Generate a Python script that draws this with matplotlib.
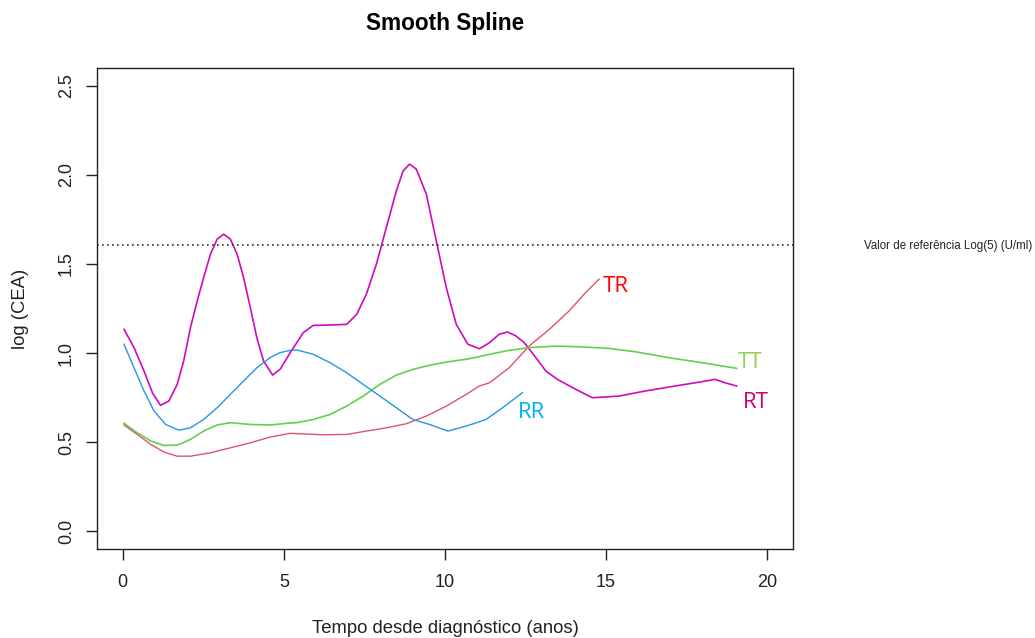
import matplotlib
matplotlib.use("Agg")
import matplotlib.pyplot as plt

plt.rcParams["font.family"] = ["Liberation Sans", "DejaVu Sans"]

# Smoothed log(CEA) trajectories per group
rt_x = [0.04, 0.35, 0.66, 0.92, 1.17, 1.43, 1.69, 1.89, 2.10, 2.31, 2.51, 2.72,
        2.93, 3.13, 3.34, 3.55, 3.75, 3.96, 4.16, 4.37, 4.65, 4.89, 5.19, 5.30,
        5.60, 5.91, 6.43, 6.95, 7.26, 7.56, 7.87, 8.18, 8.49, 8.70, 8.90, 9.11,
        9.42, 9.73, 10.04, 10.35, 10.71, 11.07, 11.38, 11.68, 11.94, 12.20,
        12.46, 12.82, 13.13, 13.49, 14.06, 14.57, 15.39, 16.22, 17.15, 17.97,
        18.38, 18.69, 19.05]
rt_y = [1.133, 1.030, 0.899, 0.777, 0.706, 0.730, 0.824, 0.955, 1.142, 1.292,
        1.423, 1.554, 1.639, 1.667, 1.639, 1.554, 1.423, 1.254, 1.086, 0.955,
        0.876, 0.910, 1.000, 1.030, 1.114, 1.155, 1.157, 1.161, 1.217, 1.330,
        1.498, 1.704, 1.910, 2.022, 2.060, 2.032, 1.892, 1.629, 1.367, 1.161,
        1.049, 1.024, 1.058, 1.105, 1.118, 1.096, 1.058, 0.974, 0.899, 0.852,
        0.796, 0.749, 0.758, 0.787, 0.815, 0.839, 0.852, 0.833, 0.815]

tr_x = [0.04, 0.45, 0.87, 1.28, 1.69, 2.10, 2.72, 3.34, 3.96, 4.57, 5.19,
        5.50, 6.22, 6.95, 7.56, 8.18, 8.80, 9.42, 10.04, 10.66, 11.07, 11.38,
        11.99, 12.61, 13.24, 13.85, 14.36, 14.78]
tr_y = [0.596, 0.543, 0.487, 0.444, 0.421, 0.421, 0.440, 0.468, 0.496, 0.528,
        0.549, 0.547, 0.541, 0.543, 0.562, 0.580, 0.603, 0.646, 0.702, 0.768,
        0.815, 0.833, 0.917, 1.039, 1.133, 1.236, 1.339, 1.414]

tt_x = [0.04, 0.45, 0.87, 1.28, 1.69, 2.10, 2.51, 2.93, 3.34, 3.96, 4.57,
        5.19, 5.40, 5.91, 6.43, 6.95, 7.46, 7.98, 8.49, 9.00, 9.52, 10.04,
        10.66, 11.07, 11.38, 11.99, 12.61, 13.44, 14.16, 15.08, 15.91, 16.94,
        17.97, 19.05]
tt_y = [0.605, 0.552, 0.506, 0.481, 0.483, 0.515, 0.562, 0.596, 0.609, 0.599,
        0.596, 0.607, 0.609, 0.627, 0.655, 0.702, 0.758, 0.824, 0.876, 0.908,
        0.931, 0.949, 0.965, 0.980, 0.993, 1.015, 1.030, 1.039, 1.035, 1.026,
        1.007, 0.974, 0.946, 0.914]

rr_x = [0.04, 0.35, 0.66, 0.97, 1.33, 1.74, 2.10, 2.51, 2.93, 3.34, 3.75,
        4.16, 4.57, 4.88, 5.19, 5.40, 5.91, 6.43, 6.95, 7.46, 7.98, 8.49,
        9.00, 9.52, 10.09, 10.66, 11.07, 11.27, 11.79, 12.40]
rr_y = [1.049, 0.917, 0.787, 0.674, 0.599, 0.567, 0.580, 0.627, 0.693, 0.768,
        0.843, 0.917, 0.974, 1.002, 1.015, 1.017, 0.993, 0.946, 0.889, 0.824,
        0.758, 0.693, 0.627, 0.599, 0.562, 0.590, 0.614, 0.627, 0.693, 0.777]

ref_level = 1.609  # log(5)

x_ticks = [0, 5, 10, 15, 20]
y_ticks = [0.0, 0.5, 1.0, 1.5, 2.0, 2.5]

fig = plt.figure(figsize=(10.35, 6.38), dpi=100)
ax = fig.add_axes([0.0937, 0.1395, 0.6725, 0.754])

ax.plot(rt_x, rt_y, color="#CD0BBC", lw=1.2)
ax.plot(tr_x, tr_y, color="#DF536B", lw=1.0)
ax.plot(tt_x, tt_y, color="#61D04F", lw=1.2)
ax.plot(rr_x, rr_y, color="#2297E6", lw=1.0)

ax.axhline(ref_level, color="#333333", lw=1.2, linestyle=(0, (1, 2)))

label_font = dict(fontsize=16, family=["Open Sans", "DejaVu Sans"])
ax.text(tr_x[-1] + 0.12, tr_y[-1] - 0.04, "TR", color="#FF0000", ha="left", va="center", **label_font)
ax.text(tt_x[-1] + 0.05, tt_y[-1] + 0.03, "TT", color="#92D050", ha="left", va="center", **label_font)
ax.text(rr_x[-1] - 0.15, rr_y[-1] - 0.11, "RR", color="#00B0F0", ha="left", va="center", **label_font)
ax.text(rt_x[-1] + 0.2, rt_y[-1] - 0.09, "RT", color="#CC0066", ha="left", va="center", **label_font)

fig.text(0.8347, (638 - 246) / 638, "Valor de referência Log(5) (U/ml)",
         fontsize=8.3, color="#222222", ha="left", va="center")

ax.set_xlim(-0.8, 20.8)
ax.set_ylim(-0.1, 2.6)
ax.set_xticks(x_ticks)
ax.set_xticklabels([str(v) for v in x_ticks])
ax.set_yticks(y_ticks)
ax.set_yticklabels([f"{v:.1f}" for v in y_ticks], rotation=90, va="center")

ax.tick_params(direction="out", length=8, width=1, colors="#222222",
               labelsize=13, pad=10)
ax.tick_params(axis="y", pad=8)
for s in ax.spines.values():
    s.set_color("#222222")
    s.set_linewidth(1.0)

ax.set_xlabel("Tempo desde diagnóstico (anos)", fontsize=13.3, color="#222222", labelpad=21)
ax.set_ylabel("log (CEA)", fontsize=13.3, color="#222222", labelpad=21)
ax.set_title("Smooth Spline", fontsize=16.3, fontweight="bold", pad=27)

fig.savefig("out.png", dpi=100)
